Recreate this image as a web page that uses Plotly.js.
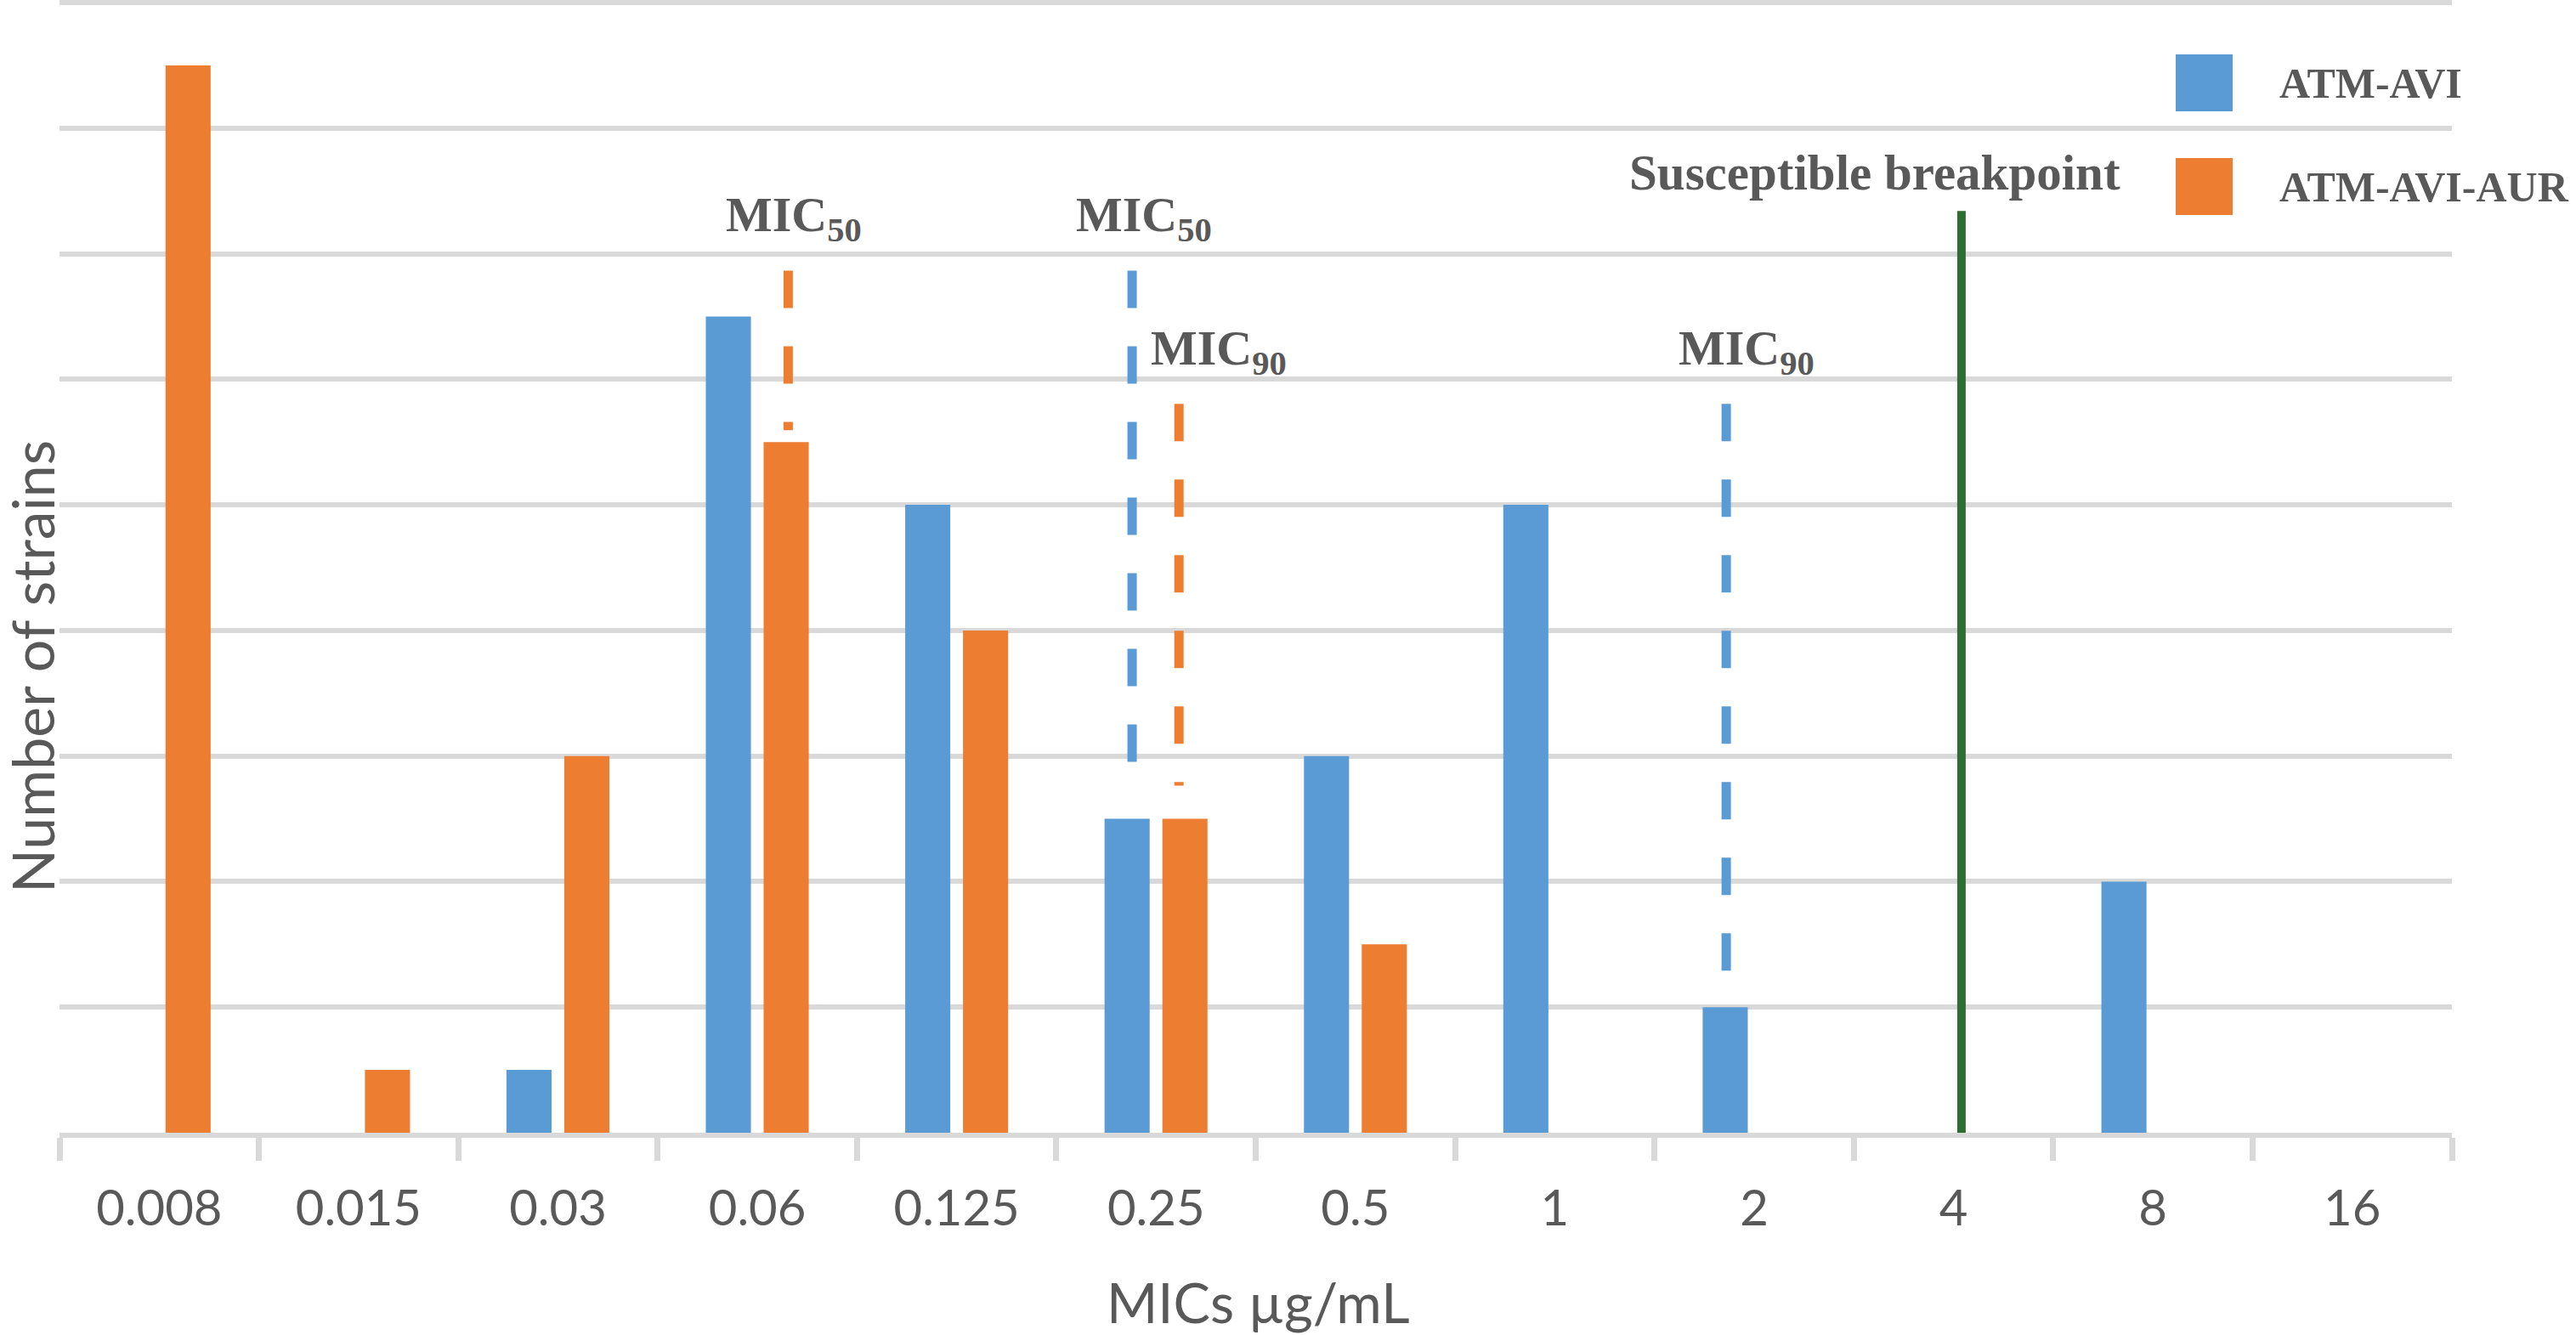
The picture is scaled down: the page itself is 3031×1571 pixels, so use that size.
<!DOCTYPE html>
<html>
<head>
<meta charset="utf-8">
<script src="https://cdn.plot.ly/plotly-3.0.1.min.js"></script>
<style>
  html, body { margin: 0; padding: 0; background: #fff; }
  #plotdiv { width: 3031px; height: 1571px; }
</style>
</head>
<body>
<div id="plotdiv"></div>
<script>
// MIC categories (µg/mL) and number of strains per series
var categories = ['0.008', '0.015', '0.03', '0.06', '0.125', '0.25', '0.5', '1', '2', '4', '8', '16'];
var atmAvi    = [0, 0, 1, 13, 10, 5, 6, 10, 2, 0, 4, 0];
var atmAviAur = [17, 1, 6, 11, 8, 5, 3, 0, 0, 0, 0, 0];

// MIC50 / MIC90 marker lines: category, series, top and bottom (strain units)
var micCats   = ['0.06', '0.25', '0.25', '2'];
var micSeries = ['ATM-AVI-AUR', 'ATM-AVI', 'ATM-AVI-AUR', 'ATM-AVI'];
var micNames  = ['50', '50', '90', '90'];
var micTop    = [13.73, 13.73, 11.61, 11.61];
var micBottom = [11.19, 5.9, 5.53, 2.58];

// susceptible breakpoint
var breakpointCat = '4';
var breakpointTop = 14.68;

var BLUE = '#5B9BD5';
var ORANGE = '#ED7D31';
var GREEN = '#2E6E33';
var GRID = '#D9D9D9';
var TEXT = '#595959';
var SERIF = 'Liberation Serif, Times New Roman, serif';
var SANS = 'Lato, Open Sans, sans-serif';

// plot box in page pixels (y=18 gridline sits at 3px from the top)
var W = 3031, H = 1571;
var box = {l: 70, r: 2885, t: 0, b: 1333};
var yTop = 18 + 3 / 73.9;
function pxX(px) { return (px - box.l) / (box.r - box.l); }
function pxY(py) { return (box.b - py) / (box.b - box.t); }

// small horizontal nudges of the marker lines (category units) and label offsets
var lineNudge = [0.155, -0.12, 0.115, -0.14];
var labelNudge = [0.03, 0.06, 0.2, 0.1];
var labelY = {'50': 14.57, '90': 12.44};

var data = [
    {
        x: categories, y: atmAvi, type: 'bar', name: 'ATM-AVI',
        marker: {color: BLUE}, hoverinfo: 'x+y'
    },
    {
        x: categories, y: atmAviAur, type: 'bar', name: 'ATM-AVI-AUR',
        marker: {color: ORANGE}, hoverinfo: 'x+y'
    }
];

var shapes = [];
var annotations = [];

for (var i = 0; i < micCats.length; ++i) {
    var xi = categories.indexOf(micCats[i]) + lineNudge[i];
    shapes.push({
        type: 'line', xref: 'x', yref: 'y',
        x0: xi, x1: xi, y0: micTop[i], y1: micBottom[i],
        line: {
            color: micSeries[i] === 'ATM-AVI' ? BLUE : ORANGE,
            width: 11, dash: '44px,45px'
        }
    });
    annotations.push({
        xref: 'x', yref: 'y',
        x: xi + labelNudge[i],
        y: labelY[micNames[i]],
        xanchor: 'center', yanchor: 'middle', showarrow: false,
        text: 'MIC<sub>' + micNames[i] + '</sub>',
        font: {family: SERIF, size: 58, color: TEXT, weight: 'bold'}
    });
}

var bx = categories.indexOf(breakpointCat) + 0.04;
shapes.push({
    type: 'line', xref: 'x', yref: 'y',
    x0: bx, x1: bx, y0: 0, y1: breakpointTop,
    line: {color: GREEN, width: 10}
});
annotations.push({
    xref: 'x', yref: 'y', x: 8.605, y: 15.29,
    xanchor: 'center', yanchor: 'middle', showarrow: false,
    text: 'Susceptible breakpoint',
    font: {family: SERIF, size: 59, color: TEXT, weight: 'bold'}
});

// legend drawn by hand (large squares like the original)
var legendItems = [['ATM-AVI', BLUE, 64], ['ATM-AVI-AUR', ORANGE, 186]];
legendItems.forEach(function (it) {
    shapes.push({
        type: 'rect', xref: 'paper', yref: 'paper',
        x0: pxX(2560), x1: pxX(2627), y0: pxY(it[2]), y1: pxY(it[2] + 67),
        line: {width: 0}, fillcolor: it[1]
    });
    annotations.push({
        xref: 'paper', yref: 'paper', x: pxX(2680), y: pxY(it[2] + 34),
        xanchor: 'left', yanchor: 'middle', showarrow: false,
        text: it[0],
        font: {family: SERIF, size: 50, color: TEXT, weight: 'bold'}
    });
});

// axis titles
annotations.push({
    xref: 'paper', yref: 'paper', x: pxX(1480), y: pxY(1532),
    xanchor: 'center', yanchor: 'middle', showarrow: false,
    text: 'MICs µg/mL', font: {family: SANS, size: 65, color: TEXT}
});
annotations.push({
    xref: 'paper', yref: 'paper', x: pxX(37), y: pxY(785),
    xanchor: 'center', yanchor: 'middle', showarrow: false, textangle: -90,
    text: 'Number of strains', font: {family: SANS, size: 68, color: TEXT}
});

var layout = {
    width: W, height: H,
    margin: {l: box.l, r: W - box.r, t: box.t, b: H - box.b, pad: 0},
    paper_bgcolor: '#fff', plot_bgcolor: '#fff',
    font: {family: SANS, color: TEXT},
    barmode: 'group', bargap: 0.42, bargroupgap: 0.22,
    showlegend: false,
    xaxis: {
        type: 'category', range: [-0.5, 11.5], fixedrange: true,
        showgrid: false, showline: true, linecolor: GRID, linewidth: 6,
        ticks: 'outside', tickson: 'boundaries', ticklen: 27, tickwidth: 7, tickcolor: GRID,
        tickangle: 0, ticklabelstandoff: 33,
        tickfont: {family: SANS, size: 58, color: TEXT}
    },
    yaxis: {
        range: [0, yTop], tick0: 0, dtick: 2, fixedrange: true,
        showgrid: true, gridcolor: GRID, gridwidth: 6,
        zeroline: false, showline: false, showticklabels: false, ticks: ''
    },
    shapes: shapes,
    annotations: annotations
};

Plotly.newPlot('plotdiv', data, layout, {displayModeBar: false, staticPlot: true});
</script>
</body>
</html>
